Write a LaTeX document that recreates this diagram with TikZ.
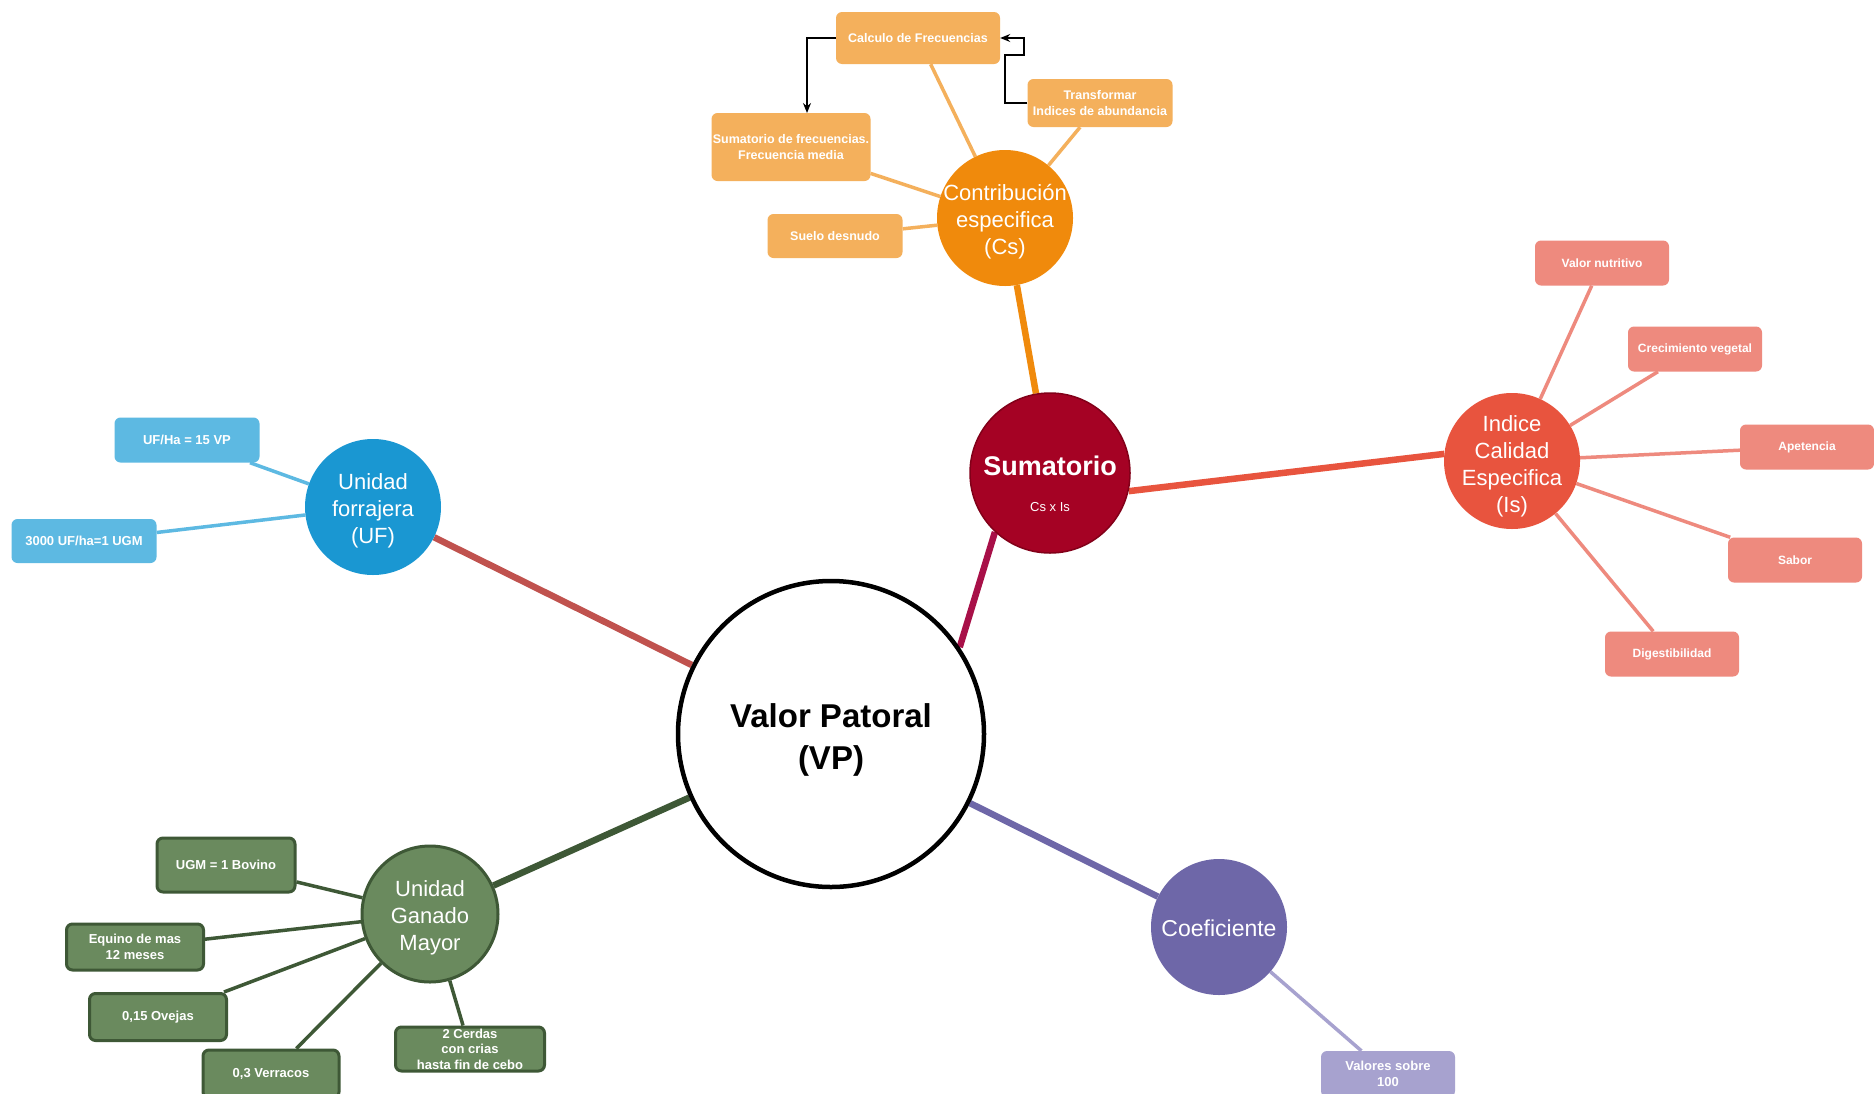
\documentclass[tikz,border=0pt]{standalone}
\usepackage{fontspec}
\setmainfont{Liberation Sans}
\usetikzlibrary{backgrounds,arrows.meta}
\definecolor{cOrange}{RGB}{240,138,12}
\definecolor{cOrL}{RGB}{244,176,92}
\definecolor{cSum}{RGB}{165,2,36}
\definecolor{cSumD}{RGB}{130,0,25}
\definecolor{cCrim}{RGB}{168,16,72}
\definecolor{cRed}{RGB}{232,84,62}
\definecolor{cRedL}{RGB}{238,138,126}
\definecolor{cBlue}{RGB}{26,151,210}
\definecolor{cBlueL}{RGB}{93,185,226}
\definecolor{cVPUF}{RGB}{192,82,78}
\definecolor{cGreen}{RGB}{106,138,94}
\definecolor{cGreenD}{RGB}{62,88,54}
\definecolor{cPurple}{RGB}{110,103,168}
\definecolor{cPurL}{RGB}{167,162,207}
\tikzset{
  hub/.style={circle, inner sep=0pt, minimum size=136pt},
  hubtext/.style={text=white, align=center, inner sep=0pt, font=\fontsize{22}{27}\selectfont},
  leaf/.style={rectangle, rounded corners=6pt, inner sep=0pt, text=white, align=center,
    font=\fontsize{13}{16}\selectfont\bfseries},
  mainline/.style={line width=6.5pt},
  twig/.style={line width=3.5pt},
  arr/.style={draw=black, line width=1.4pt, -{Stealth[length=10pt,width=8pt]}},
}
\begin{document}
\begin{tikzpicture}[x=1pt,y=-1pt]
\useasboundingbox (0,0) rectangle (1874,1093);

% central
\node[hub, minimum size=306pt, draw=black, line width=4.5pt, fill=white] (vp) at (831,734) {};
\node[hubtext, text=black, font=\fontsize{33}{42}\selectfont\bfseries] (vpt) at (831,740) {Valor Patoral\\(VP)};

% Sumatorio
\node[hub, minimum size=160pt, fill=cSum, draw=cSumD, line width=1.5pt] (sum) at (1050,473) {};
\node[text=white, font=\fontsize{27}{27}\selectfont\bfseries] (sumt) at (1050,466) {Sumatorio};
\node[text=white, font=\fontsize{13}{13}\selectfont] (sumf) at (1050,507) {Cs x Is};

% hubs
\node[hub, fill=cOrange] (cs) at (1005,218) {};
\node[hubtext] (cst) at (1005,222) {Contribución\\especifica\\(Cs)};
\node[hub, fill=cRed] (is) at (1512,461) {};
\node[hubtext] (ist) at (1512,466) {Indice\\Calidad\\Especifica\\(Is)};
\node[hub, fill=cBlue] (uf) at (373,507) {};
\node[hubtext, font=\fontsize{22}{27}\selectfont] (uft) at (373,511) {Unidad\\forrajera\\(UF)};
\node[hub, fill=cGreen, draw=cGreenD, line width=3pt] (ugm) at (430,914) {};
\node[hubtext] (ugmt) at (430,918) {Unidad\\Ganado\\Mayor};
\node[hub, fill=cPurple] (coef) at (1219,927) {};
\node[hubtext, font=\fontsize{23}{27}\selectfont] (coeft) at (1219,928) {Coeficiente};

% Cs leaves
\node[leaf, fill=cOrL, font=\fontsize{12.5}{15.5}\selectfont\bfseries, minimum width=164pt, minimum height=52pt] (calc) at (918,38) {Calculo de Frecuencias};
\node[leaf, fill=cOrL, font=\fontsize{12.5}{15.5}\selectfont\bfseries, minimum width=145pt, minimum height=48pt] (trans) at (1100,103) {Transformar\\Indices de abundancia};
\node[leaf, fill=cOrL, font=\fontsize{12.5}{16}\selectfont\bfseries, minimum width=159pt, minimum height=68pt] (cfreq) at (791,147) {Sumatorio de frecuencias.\\Frecuencia media};
\node[leaf, fill=cOrL, font=\fontsize{12.5}{15.5}\selectfont\bfseries, minimum width=135pt, minimum height=44pt] (suelo) at (835,236) {Suelo desnudo};

% Is leaves
\node[leaf, fill=cRedL, font=\fontsize{12}{15}\selectfont\bfseries, minimum width=134pt, minimum height=45pt] (vn) at (1602,263) {Valor nutritivo};
\node[leaf, fill=cRedL, font=\fontsize{12}{15}\selectfont\bfseries, minimum width=134pt, minimum height=45pt] (cv) at (1695,349) {Crecimiento vegetal};
\node[leaf, fill=cRedL, font=\fontsize{12}{15}\selectfont\bfseries, minimum width=134pt, minimum height=45pt] (ap) at (1807,447) {Apetencia};
\node[leaf, fill=cRedL, font=\fontsize{12}{15}\selectfont\bfseries, minimum width=134pt, minimum height=45pt] (sa) at (1795,560) {Sabor};
\node[leaf, fill=cRedL, font=\fontsize{12}{15}\selectfont\bfseries, minimum width=134pt, minimum height=45pt] (di) at (1672,654) {Digestibilidad};

% UF leaves
\node[leaf, fill=cBlueL, minimum width=145pt, minimum height=45pt] (uha) at (187,440) {UF/Ha = 15 VP};
\node[leaf, fill=cBlueL, minimum width=145pt, minimum height=44pt] (ugmb) at (84,541) {3000 UF/ha=1 UGM};

% UGM leaves
\node[leaf, fill=cGreen, draw=cGreenD, line width=3pt, minimum width=138pt, minimum height=54pt] (bov) at (226,865) {UGM = 1 Bovino};
\node[leaf, fill=cGreen, draw=cGreenD, line width=3pt, minimum width=137pt, minimum height=46pt] (equ) at (135,947) {Equino de mas\\12 meses};
\node[leaf, fill=cGreen, draw=cGreenD, line width=3pt, minimum width=137pt, minimum height=47pt] (ove) at (158,1017) {0,15 Ovejas};
\node[leaf, fill=cGreen, draw=cGreenD, line width=3pt, minimum width=136pt, minimum height=48pt] (ver) at (271,1074) {0,3 Verracos};
\node[leaf, fill=cGreen, draw=cGreenD, line width=3pt, minimum width=149pt, minimum height=44pt, font=\fontsize{13}{15.5}\selectfont\bfseries] (cer) at (470,1049) {2 Cerdas\\con crias\\hasta fin de cebo};

% Coef leaf
\node[leaf, fill=cPurL, minimum width=134pt, minimum height=46pt] (val) at (1388,1074) {Valores sobre\\100};

% connectors
\begin{scope}[on background layer]
  \fill[white] (0,0) rectangle (1874,1093);
  \draw[mainline, draw=cVPUF] (vp) -- (uf);
  \draw[mainline, draw=cGreenD] (vp) -- (ugm);
  \draw[mainline, draw=cCrim] (vp.34) -- (sum.227);
  \draw[mainline, draw=cPurple] (vp) -- (coef);
  \draw[mainline, draw=cOrange] (sum) -- (cs);
  \draw[mainline, draw=cRed] (sum.-13) -- (is.174);
  \foreach \l in {calc,trans,cfreq,suelo} \draw[twig, draw=cOrL] (cs) -- (\l);
  \foreach \l in {vn,cv,ap,sa,di} \draw[twig, draw=cRedL] (is) -- (\l);
  \foreach \l in {uha,ugmb} \draw[twig, draw=cBlueL] (uf) -- (\l);
  \foreach \l in {bov,equ,ove,ver,cer} \draw[twig, draw=cGreenD] (ugm) -- (\l);
  \draw[twig, draw=cPurL] (coef) -- (val);
\end{scope}

% arrows
\coordinate (a1) at (807,113);
\draw[arr] (calc.west) -| (a1);
\coordinate (b1) at (1005,103);
\coordinate (b2) at (1024,55);
\coordinate (b3) at (1024,38);
\draw[arr] (trans.west) -- (b1) |- (b2) -- (b3) -- (calc.east);
\end{tikzpicture}
\end{document}
